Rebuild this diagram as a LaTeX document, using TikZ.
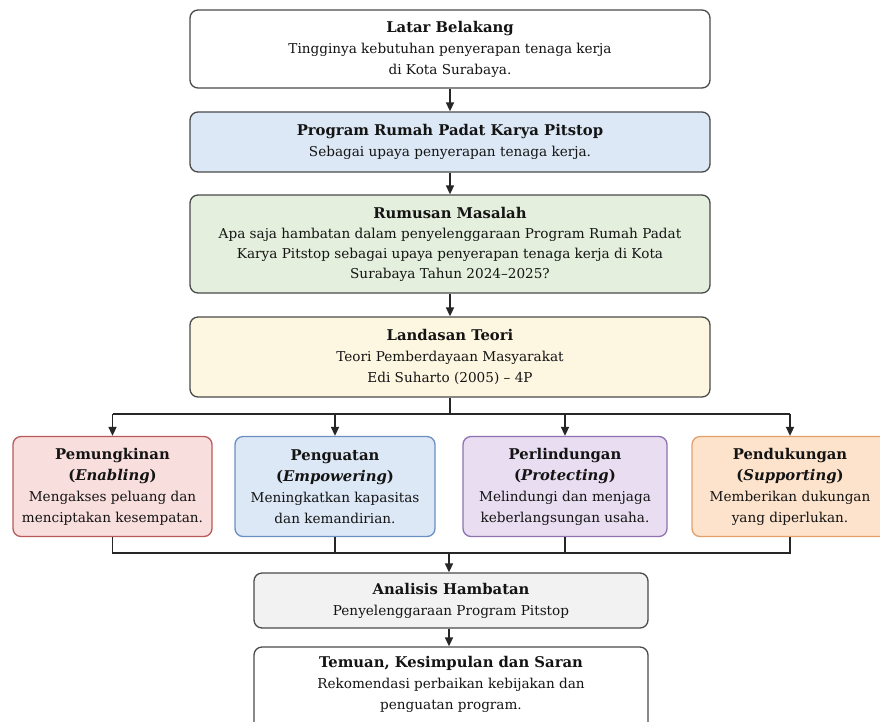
\documentclass[tikz,border=0pt]{standalone}
\usepackage{fontspec}
\setmainfont{DejaVu Serif}
\usetikzlibrary{arrows.meta}
\definecolor{bordergray}{HTML}{4A4A4A}
\definecolor{fblue}{HTML}{DCE8F6}
\definecolor{fgreen}{HTML}{E4EFDD}
\definecolor{fcream}{HTML}{FDF6E1}
\definecolor{fred}{HTML}{F9DEDE}
\definecolor{bred}{HTML}{B85A5A}
\definecolor{bblue}{HTML}{6A8FC0}
\definecolor{fpurple}{HTML}{E9DDF1}
\definecolor{bpurple}{HTML}{8E72B0}
\definecolor{forange}{HTML}{FDE3CC}
\definecolor{borange}{HTML}{E3A06A}
\definecolor{fgray}{HTML}{F2F2F2}
\tikzset{
  box/.style={draw=bordergray, line width=1.3pt, rounded corners=8pt, inner sep=0pt,
    align=center, font=\fontsize{13.6}{21}\selectfont, text=black!92},
  arr/.style={line width=1.6pt, draw=black!85, -{Triangle[width=8pt,length=9pt]}},
  ln/.style={line width=1.6pt, draw=black!85},
}
\newcommand{\ttl}[1]{{\fontsize{14.8}{21}\selectfont\bfseries #1}}
\begin{document}
\begin{tikzpicture}[x=1pt,y=-1pt]
\useasboundingbox (0,0) rectangle (880,721);
\clip (0,0) rectangle (880,721);
\fill[white] (0,0) rectangle (880,721);

\node[box, fill=white, minimum width=520pt, minimum height=78pt] (b1) at (450,49)
  {\ttl{Latar Belakang}\\Tingginya kebutuhan penyerapan tenaga kerja\\di Kota Surabaya.};
\node[box, fill=fblue, minimum width=520pt, minimum height=60pt] (b2) at (450,142)
  {\ttl{Program Rumah Padat Karya Pitstop}\\Sebagai upaya penyerapan tenaga kerja.};
\node[box, fill=fgreen, minimum width=520pt, minimum height=98pt] (b3) at (450,244)
  {\ttl{Rumusan Masalah}\\[-1pt]Apa saja hambatan dalam penyelenggaraan Program Rumah Padat\\[-1pt]Karya Pitstop sebagai upaya penyerapan tenaga kerja di Kota\\[-1pt]Surabaya Tahun 2024–2025?};
\node[box, fill=fcream, minimum width=520pt, minimum height=80pt] (b4) at (450,357)
  {\ttl{Landasan Teori}\\Teori Pemberdayaan Masyarakat\\Edi Suharto (2005) – 4P};

\node[box, draw=bred, fill=fred, minimum width=199pt, minimum height=100pt] (b5) at (112.5,486.5)
  {\ttl{Pemungkinan}\\\ttl{(\textit{Enabling})}\\Mengakses peluang dan\\menciptakan kesempatan.};
\node[box, draw=bblue, fill=fblue, minimum width=200pt, minimum height=100pt] (b6) at (335,486.5)
  {\ttl{Penguatan}\\\ttl{(\textit{Empowering})}\\Meningkatkan kapasitas\\dan kemandirian.};
\node[box, draw=bpurple, fill=fpurple, minimum width=204pt, minimum height=100pt] (b7) at (565,486.5)
  {\ttl{Perlindungan}\\\ttl{(\textit{Protecting})}\\Melindungi dan menjaga\\keberlangsungan usaha.};
\node[box, draw=borange, fill=forange, minimum width=196pt, minimum height=100pt] (b8) at (790,486.5)
  {\ttl{Pendukungan}\\\ttl{(\textit{Supporting})}\\Memberikan dukungan\\yang diperlukan.};

\node[box, fill=fgray, minimum width=394pt, minimum height=55pt] (b9) at (451,600.5)
  {\ttl{Analisis Hambatan}\\Penyelenggaraan Program Pitstop};
\node[box, fill=white, minimum width=394pt, minimum height=90pt] (b10) at (451,692)
  {};
\node[align=center, font=\fontsize{13.6}{21}\selectfont, text=black!92, anchor=north] (t10) at (451,653)
  {\ttl{Temuan, Kesimpulan dan Saran}\\Rekomendasi perbaikan kebijakan dan\\penguatan program.};

\draw[arr] (b1) -- (b2);
\draw[arr] (b2) -- (b3);
\draw[arr] (b3) -- (b4);

\coordinate (s) at (450,414);
\draw[ln] (b4.south) -- (s);
\draw[ln] (b5.north |- s) -- (b8.north |- s);
\foreach \b in {b5,b6,b7,b8} \draw[arr] (\b.north |- s) -- (\b.north);

\coordinate (m) at (449,553);
\draw[ln] (b5.south) -- (b5.south |- m) -- (b8.south |- m) -- (b8.south);
\draw[ln] (b6.south) -- (b6.south |- m);
\draw[ln] (b7.south) -- (b7.south |- m);
\draw[arr] (m) -- (m |- b9.north);
\draw[arr] (b9.south -| m) -- (m |- b10.north);
\end{tikzpicture}
\end{document}
